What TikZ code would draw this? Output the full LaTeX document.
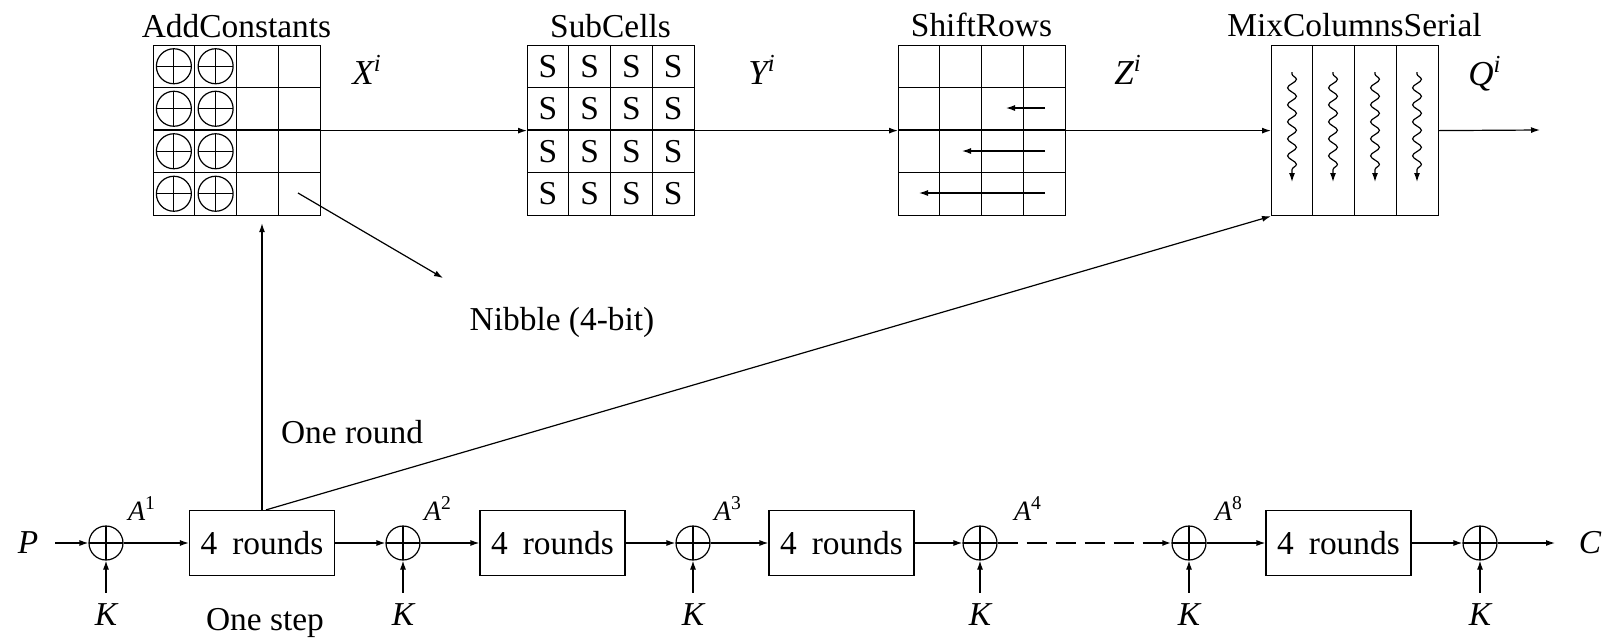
\documentclass[tikz,border=0pt]{standalone}
\usepackage{fontspec}
\setmainfont{Liberation Serif}
\usetikzlibrary{arrows.meta,decorations.pathmorphing,calc}
\begin{document}
\begin{tikzpicture}[x=0.5pt,y=-0.5pt,
  line width=0.6pt,
  >={Latex[length=4.5pt,width=3pt]},
  every node/.style={font=\fontsize{16.7}{20}\selectfont, inner sep=0pt},
  lbl/.style={anchor=base},
  gridbox/.style={draw, rectangle, minimum width=83.5pt, minimum height=85pt, anchor=north west},
  roundbox/.style={draw, rectangle, minimum width=72.5pt, minimum height=32.5pt},
  xor/.style={circle, draw, minimum size=17pt,
    path picture={\draw (path picture bounding box.north)--(path picture bounding box.south)
                        (path picture bounding box.west)--(path picture bounding box.east);}},
  keylbl/.style={font=\fontsize{16.7}{20}\selectfont\itshape, anchor=base},
  alabel/.style={font=\fontsize{14}{16}\selectfont, anchor=base},
  statelbl/.style={font=\fontsize{17.5}{20}\selectfont\itshape, anchor=base},
  wavy/.style={->, decorate, decoration={snake, amplitude=2.2pt, segment length=8.5pt, pre length=1pt, post length=4pt}}
]
\useasboundingbox (0,0) rectangle (1614,638);

% grids
\node[gridbox] (ac) at (153,45) {};
\node[gridbox] (sc) at (527,45) {};
\node[gridbox] (sr) at (898,45) {};
\node[gridbox] (mc) at (1271,45) {};
\foreach \x in {153,527,898} {
  \foreach \i in {1,2,3} {
    \draw (\x+\i*41.75,45) -- (\x+\i*41.75,215);
    \draw (\x,45+\i*42.5) -- (\x+167,45+\i*42.5);
  }
}
\foreach \i in {1,2,3} \draw (1271+\i*41.75,45) -- (1271+\i*41.75,215);

% AddConstants XORs
\foreach \c in {0,1} \foreach \r in {0,1,2,3}
  \node[xor, minimum size=17.5pt] (ac-\c-\r) at (153+20.875+\c*41.75, 45+21.25+\r*42.5) {};

% S-boxes
\foreach \c in {0,1,2,3} \foreach \r in {0,1,2,3}
  \node (s-\c-\r) at (527+20.875+\c*41.75, 45+21.25+\r*42.5) {S};

% ShiftRows arrows
\draw[->] (1045,108) -- (1006,108);
\draw[->] (1045,151) -- (962,151);
\draw[->] (1045,193) -- (919,193);

% MixColumns wavy arrows
\foreach \x in {1292,1333,1375,1417} \draw[wavy] (\x,72) -- (\x,182);

% titles
\node[lbl] (t1) at (236.5,37) {AddConstants};
\node[lbl] (t2) at (610.5,37) {SubCells};
\node[lbl] (t3) at (981.5,36) {ShiftRows};
\node[lbl] (t4) at (1354.5,36) {MixColumnsSerial};

% state labels
\node[statelbl] (lx) at (367,84) {X\textsuperscript{i}};
\node[statelbl] (ly) at (762,84) {Y\textsuperscript{i}};
\node[statelbl] (lz) at (1128,84) {Z\textsuperscript{i}};
\node[statelbl] (lq) at (1485,85) {Q\textsuperscript{i}};

% main flow
\coordinate (qout) at (1540,130);
\draw[->] (ac.east) -- (sc.west);
\draw[->] (sc.east) -- (sr.west);
\draw[->] (sr.east) -- (mc.west);
\draw[->] (mc.east) -- (qout);

% nibble
\coordinate (cell) at (298,193);
\coordinate (nib) at (443,278);
\draw[->] (cell) -- (nib);
\node[lbl] (nibtxt) at (562,330) {Nibble (4-bit)};

% bottom chain
\node[xor] (x1) at (106,543) {};
\node[xor] (x2) at (403,543) {};
\node[xor] (x3) at (693,543) {};
\node[xor] (x4) at (980,543) {};
\node[xor] (x8) at (1189,543) {};
\node[xor] (x9) at (1480,543) {};
\node[roundbox] (b1) at (262,543) {4\hspace{0.45em}rounds};
\node[roundbox] (b2) at (552.5,543) {4\hspace{0.45em}rounds};
\node[roundbox] (b3) at (841.5,543) {4\hspace{0.45em}rounds};
\node[roundbox] (b4) at (1338.5,543) {4\hspace{0.45em}rounds};

\node[keylbl] (P) at (28,553) {P};
\node[keylbl] (C) at (1590,553) {C};
\coordinate (pin) at (55,543);
\coordinate (cout) at (1555,543);

\draw[->] (pin) -- (x1);
\draw[->] (x1) -- (x1 -| b1.west);
\draw[->] (b1) -- (x2);
\draw[->] (x2) -- (x2 -| b2.west);
\draw[->] (b2) -- (x3);
\draw[->] (x3) -- (x3 -| b3.west);
\draw[->] (b3) -- (x4);
\draw[->, line width=1.3pt, dash pattern=on 10pt off 4.5pt] (x4) -- (x8);
\draw[->] (x8) -- (x8 -| b4.west);
\draw[->] (b4) -- (x9);
\draw[->] (x9) -- (cout);

% keys
\foreach \n/\x in {1/106,2/403,3/693,4/980,8/1189,9/1480} {
  \node[keylbl] (k\n) at (\x,625) {K};
  \draw[->] ([yshift=5pt]k\n.north) -- (x\n.south);
}

% A labels
\node[alabel] (a1) at (142,520) {\textit{A}\textsuperscript{1}};
\node[alabel] (a2) at (438,520) {\textit{A}\textsuperscript{2}};
\node[alabel] (a3) at (728,520) {\textit{A}\textsuperscript{3}};
\node[alabel] (a4) at (1028,520) {\textit{A}\textsuperscript{4}};
\node[alabel] (a8) at (1229,520) {\textit{A}\textsuperscript{8}};

% round links
\draw[->, shorten >=3.5pt] (b1.north) -- (b1.north |- ac.south);
\draw[->] ([xshift=2pt]b1.north) -- (mc.south west);

\node[lbl] (onestep) at (265,630) {One step};
\node[lbl] (oneround) at (352,443) {One round};
\end{tikzpicture}
\end{document}
